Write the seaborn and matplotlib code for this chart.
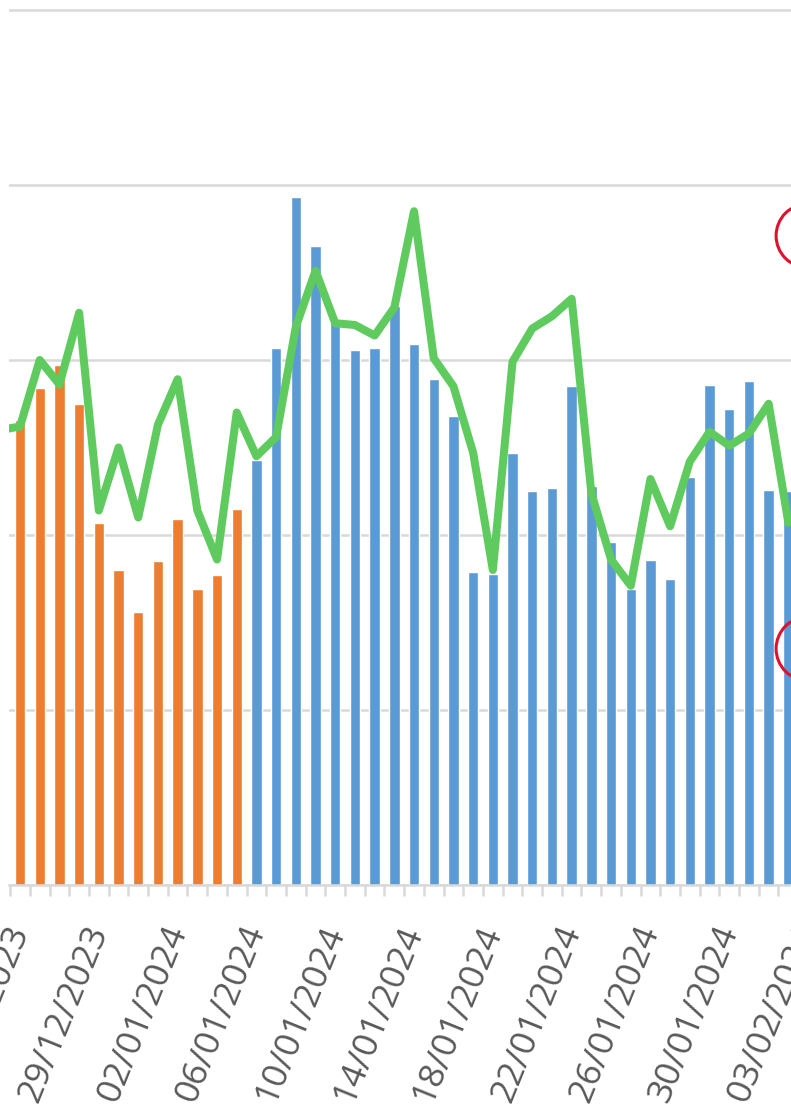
import numpy as np
import pandas as pd
import matplotlib
matplotlib.use("Agg")
import matplotlib.pyplot as plt
import seaborn as sns

# daily categories shown on the x axis (25/12/2023 .. 02/02/2024)
days = pd.date_range("2023-12-25", "2024-02-02").strftime("%d/%m/%Y").tolist()
period = ["antes"] * 12 + ["despues"] * 28

bar_values = [266, 284, 297, 275, 207, 180, 156, 185, 209, 169, 177, 215,
              243, 307, 393, 365, 321, 306, 307, 331, 309, 289, 268, 179,
              178, 247, 225, 227, 285, 228, 196, 169, 186, 175, 233, 286,
              272, 288, 226, 225]

# line starts one day earlier (24/12/2023), its first point sits outside the plot
line_values = [260, 262, 300, 286, 327, 214, 250, 210, 263, 289, 214, 186,
               270, 245, 256, 319, 351, 321, 320, 314, 330, 385, 301, 285,
               247, 180, 299, 318, 325, 335, 224, 186, 171, 232, 205, 242,
               259, 251, 258, 275, 207]

tick_labels = ["25/12/2023", "29/12/2023", "02/01/2024", "06/01/2024",
               "10/01/2024", "14/01/2024", "18/01/2024", "22/01/2024",
               "26/01/2024", "30/01/2024", "03/02/2024"]

# red markers at the right edge
mark_x = [40, 40]
mark_y = [371, 135]

df = pd.DataFrame({"dia": days, "valor": bar_values, "periodo": period})
df_line = pd.DataFrame({"pos": np.arange(-1, len(days)), "valor": line_values})

sns.set_theme(style="white")
plt.rcParams["font.family"] = ["Open Sans", "DejaVu Sans"]

fig = plt.figure(figsize=(7.91, 11.18), dpi=100)
ax = fig.add_axes([9 / 791, 233 / 1118, 828.6 / 791, 980 / 1118])

sns.barplot(data=df, x="dia", y="valor", hue="periodo", dodge=False,
            palette={"antes": "#ED7D31", "despues": "#5B9BD5"}, saturation=1,
            width=0.53, legend=False, ax=ax, zorder=2)
sns.lineplot(data=df_line, x="pos", y="valor", color="#5fcb5f", linewidth=5.8,
             ax=ax, zorder=3, solid_joinstyle="round", solid_capstyle="round")
ax.scatter(mark_x, mark_y, s=2116, facecolors="none", edgecolors="#e0102f",
           linewidths=2.2, zorder=4, clip_on=False)

ax.set_xlim(-0.56, 41.5)
ax.set_ylim(0, 560)
ax.set_yticks(range(0, 501, 100))
ax.yaxis.grid(True, color="#d9d9d9", linewidth=1.8)
ax.set_axisbelow(True)
ax.tick_params(axis="y", left=False, labelleft=False)

ax.set_xticks(range(0, 41, 4))
ax.set_xticklabels(tick_labels, rotation=68, ha="right", va="center",
                   rotation_mode="anchor", fontsize=25.5, color="#595959")
ax.set_xticks(np.arange(-0.5, 41, 1), minor=True)
ax.tick_params(axis="x", which="major", length=0, pad=30)
ax.tick_params(axis="x", which="minor", length=8, width=1.8, color="#d9d9d9",
               direction="out", bottom=True)
ax.set_xlabel("")
ax.set_ylabel("")

for side in ["top", "left", "right"]:
    ax.spines[side].set_visible(False)
ax.spines["bottom"].set_color("#d9d9d9")
ax.spines["bottom"].set_linewidth(1.8)

fig.savefig("out.png", dpi=100)
